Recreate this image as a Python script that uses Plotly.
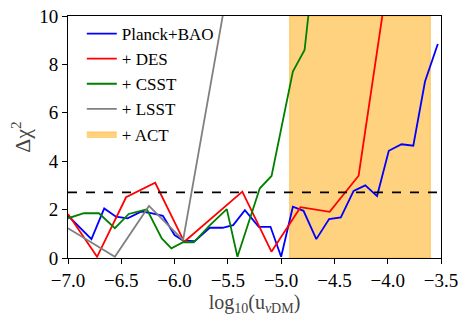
import plotly.graph_objects as go

# Planck+BAO
x_planck = [-7.00, -6.89, -6.78, -6.66, -6.55, -6.44, -6.31, -6.22, -6.11, -6.00, -5.92, -5.81,
            -5.67, -5.55, -5.45, -5.34, -5.21, -5.10, -5.00, -4.89, -4.79, -4.67, -4.55, -4.44,
            -4.32, -4.21, -4.10, -3.99, -3.87, -3.76, -3.65, -3.53]
y_planck = [1.75, 1.27, 0.78, 2.05, 1.71, 1.64, 1.92, 1.85, 1.74, 0.95, 0.72, 0.70,
            1.25, 1.25, 1.36, 1.98, 1.29, 1.29, 0.05, 2.12, 1.95, 0.78, 1.61, 1.68,
            2.77, 3.00, 2.56, 4.43, 4.70, 4.64, 7.29, 8.84]

# + DES
x_des = [-7.00, -6.727, -6.455, -6.182, -5.909, -5.636, -5.364, -5.091, -4.818, -4.545, -4.273, -4.00]
y_des = [1.82, 0.05, 2.51, 3.11, 0.67, 1.70, 2.74, 0.26, 2.10, 1.91, 3.40, 11.5]

# + CSST
x_csst = [-7.00, -6.85, -6.71, -6.56, -6.43, -6.26, -6.12, -6.03, -5.92, -5.82, -5.67, -5.51,
          -5.41, -5.30, -5.20, -5.09, -4.89, -4.78, -4.67]
y_csst = [1.64, 1.85, 1.85, 1.23, 1.82, 2.01, 0.81, 0.40, 0.65, 0.65, 1.35, 2.02,
          0.05, 1.55, 2.88, 3.39, 7.70, 8.60, 13.0]

# + LSST
x_lsst = [-7.00, -6.56, -6.24, -5.92, -5.44]
y_lsst = [1.23, 0.05, 2.15, 0.74, 12.7]

# + ACT band and threshold
act_range = [-4.92, -3.60]
threshold = 2.71

SERIF = "Times New Roman, Liberation Serif, Noto Serif, DejaVu Serif, serif"

fig = go.Figure()

fig.add_trace(go.Scatter(
    x=[act_range[0], act_range[1], act_range[1], act_range[0], act_range[0]],
    y=[0, 0, 10, 10, 0], fill='toself', mode='lines', name='+ ACT',
    fillcolor='rgba(255,165,0,0.5)', line=dict(color='rgba(255,165,0,0.5)', width=1),
    legendrank=1005, hoverinfo='skip'))

fig.add_trace(go.Scatter(x=x_planck, y=y_planck, mode='lines', name='Planck+BAO',
                         line=dict(color='#0000ff', width=1.8), legendrank=1001))
fig.add_trace(go.Scatter(x=x_des, y=y_des, mode='lines', name='+ DES',
                         line=dict(color='#ff0000', width=1.8), legendrank=1002))
fig.add_trace(go.Scatter(x=x_csst, y=y_csst, mode='lines', name='+ CSST',
                         line=dict(color='#008000', width=1.8), legendrank=1003))
fig.add_trace(go.Scatter(x=x_lsst, y=y_lsst, mode='lines', name='+ LSST',
                         line=dict(color='#808080', width=1.8), legendrank=1004))

fig.add_shape(type='line', xref='paper', x0=0, x1=1, yref='y', y0=threshold, y1=threshold,
              line=dict(color='black', width=1.6, dash='dash'))

fig.update_layout(
    width=470, height=321,
    margin=dict(l=68, r=29, t=16, b=63, autoexpand=False),
    plot_bgcolor='white', paper_bgcolor='white',
    font=dict(family=SERIF, size=18, color='black'),
    showlegend=True,
    legend=dict(x=0.037, y=1.0, xanchor='left', yanchor='top', bgcolor='rgba(0,0,0,0)',
                font=dict(family=SERIF, size=17), tracegroupgap=0, itemwidth=30),
)
fig.update_xaxes(range=[-7, -3.5], tickvals=[-7, -6.5, -6, -5.5, -5, -4.5, -4, -3.5],
                 tickformat='.1f', showgrid=False, zeroline=False, automargin=False,
                 showline=True, linecolor='black', linewidth=1, mirror=True,
                 ticks='outside', ticklen=5, tickcolor='black',
                 tickfont=dict(family=SERIF, size=19),
                 title=dict(text='log<sub>10</sub>(u<sub><i>ν</i>DM</sub>)', standoff=4,
                            font=dict(family=SERIF, size=20, color='#444444')))
fig.update_yaxes(range=[0, 10], tickvals=[0, 2, 4, 6, 8, 10], showgrid=False, zeroline=False,
                 automargin=False,
                 showline=True, linecolor='black', linewidth=1, mirror=True,
                 ticks='outside', ticklen=5, tickcolor='black',
                 tickfont=dict(family=SERIF, size=19),
                 title=dict(text='Δχ<sup>2</sup>', standoff=2,
                            font=dict(family=SERIF, size=22, color='#444444')))

fig.write_html("out.html", config={'displayModeBar': False},
               post_script="document.body.style.margin='0';")
